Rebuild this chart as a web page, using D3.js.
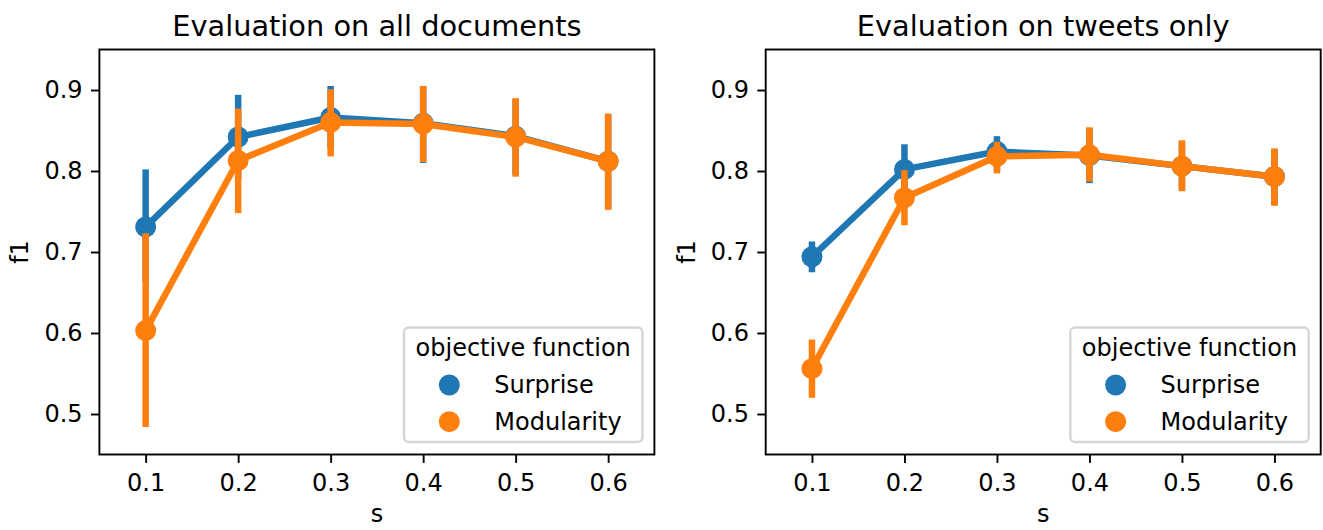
<!DOCTYPE html>
<html>
<head>
<meta charset="utf-8">
<script src="https://cdn.jsdelivr.net/npm/d3@7"></script>
<style>
  html, body { margin: 0; padding: 0; background: #fff; }
  svg text { font-family: "DejaVu Sans", sans-serif; fill: #000; }
</style>
</head>
<body>
<svg id="chart" width="1323" height="530"></svg>
<script>
// ---- data ----
const categories = ["0.1", "0.2", "0.3", "0.4", "0.5", "0.6"];
const seriesNames = ["Surprise", "Modularity"];
const yTicks = [0.5, 0.6, 0.7, 0.8, 0.9];
const panelTitles = ["Evaluation on all documents", "Evaluation on tweets only"];

// all documents
const surpriseAll     = [0.731, 0.842, 0.866, 0.859, 0.843, 0.812];
const surpriseAllLo   = [0.663, 0.790, 0.828, 0.810, 0.795, 0.753];
const surpriseAllHi   = [0.802, 0.894, 0.905, 0.905, 0.889, 0.870];
const modularityAll   = [0.603, 0.813, 0.860, 0.858, 0.842, 0.812];
const modularityAllLo = [0.484, 0.748, 0.818, 0.811, 0.793, 0.752];
const modularityAllHi = [0.723, 0.877, 0.901, 0.905, 0.890, 0.871];

// tweets only
const surpriseTw     = [0.694, 0.802, 0.824, 0.819, 0.806, 0.793];
const surpriseTwLo   = [0.675, 0.772, 0.800, 0.785, 0.776, 0.758];
const surpriseTwHi   = [0.713, 0.833, 0.843, 0.852, 0.837, 0.827];
const modularityTw   = [0.556, 0.767, 0.818, 0.820, 0.806, 0.793];
const modularityTwLo = [0.520, 0.733, 0.797, 0.787, 0.775, 0.757];
const modularityTwHi = [0.592, 0.801, 0.836, 0.854, 0.838, 0.828];

const colors = ["#1f77b4", "#ff7f0e"];

const panels = [
  { title: panelTitles[0], x0: 99.4, series: [
      { mean: surpriseAll, lo: surpriseAllLo, hi: surpriseAllHi },
      { mean: modularityAll, lo: modularityAllLo, hi: modularityAllHi } ] },
  { title: panelTitles[1], x0: 765.7, series: [
      { mean: surpriseTw, lo: surpriseTwLo, hi: surpriseTwHi },
      { mean: modularityTw, lo: modularityTwLo, hi: modularityTwHi } ] }
];

// ---- layout ----
const W = 555, plotTop = 49.5, plotBottom = 454.5;
const tickLen = 8.4, tickPad = 8.4, spineW = 1.9;
const lineW = 6.5, errW = 6.5, markerR = 10.5;

const svg = d3.select("#chart");

panels.forEach(p => {
  const g = svg.append("g").attr("transform", `translate(${p.x0},0)`);
  const x = d3.scalePoint().domain(categories).range([0, W]).padding(0.5);
  const y = d3.scaleLinear().domain([0.45, 0.95]).range([plotBottom, plotTop]);

  // axes
  const yAxis = d3.axisLeft(y).tickValues(yTicks).tickFormat(d3.format(".1f"))
    .tickSize(tickLen).tickPadding(tickPad);
  const xAxis = d3.axisBottom(x).tickSize(tickLen).tickPadding(tickPad);

  const ya = g.append("g").call(yAxis);
  const xa = g.append("g").attr("transform", `translate(0,${plotBottom})`).call(xAxis);
  [ya, xa].forEach(a => {
    a.select(".domain").remove();
    a.selectAll(".tick line").attr("stroke", "#000").attr("stroke-width", spineW);
    a.selectAll(".tick text").attr("font-size", 24).attr("font-family", "DejaVu Sans").attr("fill", "#000");
  });
  xa.selectAll(".tick text").attr("dy", "0.8em");

  // data marks
  const plot = g.append("g");
  p.series.forEach((s, j) => {
    const pts = categories.map((c, i) => ({ c, m: s.mean[i], lo: s.lo[i], hi: s.hi[i] }));
    const sg = plot.append("g");
    sg.append("path")
      .attr("d", d3.line().x(d => x(d.c)).y(d => y(d.m))(pts))
      .attr("fill", "none").attr("stroke", colors[j]).attr("stroke-width", lineW)
      .attr("stroke-linejoin", "round").attr("stroke-linecap", "square");
    sg.selectAll("line.err").data(pts).enter().append("line")
      .attr("x1", d => x(d.c)).attr("x2", d => x(d.c))
      .attr("y1", d => y(d.lo)).attr("y2", d => y(d.hi))
      .attr("stroke", colors[j]).attr("stroke-width", errW);
    sg.selectAll("circle").data(pts).enter().append("circle")
      .attr("cx", d => x(d.c)).attr("cy", d => y(d.m)).attr("r", markerR)
      .attr("fill", colors[j]);
  });

  // frame
  g.append("rect").attr("x", 0).attr("y", plotTop).attr("width", W).attr("height", plotBottom - plotTop)
    .attr("fill", "none").attr("stroke", "#000").attr("stroke-width", spineW);

  // title and labels
  g.append("text").attr("x", W / 2).attr("y", 36).attr("text-anchor", "middle")
    .attr("font-size", 28.8).text(p.title);
  g.append("text").attr("x", W / 2).attr("y", 522).attr("text-anchor", "middle")
    .attr("font-size", 24).text("s");
  g.append("text").attr("transform", `translate(${-71},${(plotTop + plotBottom) / 2}) rotate(-90)`)
    .attr("text-anchor", "middle").attr("font-size", 24).text("f1");

  // legend
  const lg = g.append("g");
  const lx0 = 304.6, ly0 = 327.5, lw = 238.4, lh = 114.5;
  lg.append("rect").attr("x", lx0).attr("y", ly0).attr("width", lw).attr("height", lh)
    .attr("rx", 4.8).attr("ry", 4.8)
    .attr("fill", "rgba(255,255,255,0.8)").attr("stroke", "rgba(204,204,204,0.8)").attr("stroke-width", 2.4);
  lg.append("text").attr("x", lx0 + lw / 2).attr("y", 356).attr("text-anchor", "middle")
    .attr("font-size", 24).text("objective function");
  seriesNames.forEach((n, j) => {
    const cy = 385 + j * 36.7;
    lg.append("circle").attr("cx", 349.9).attr("cy", cy).attr("r", markerR).attr("fill", colors[j]);
    lg.append("text").attr("x", 394.9).attr("y", cy + 8).attr("font-size", 24).text(n);
  });
});
</script>
</body>
</html>
